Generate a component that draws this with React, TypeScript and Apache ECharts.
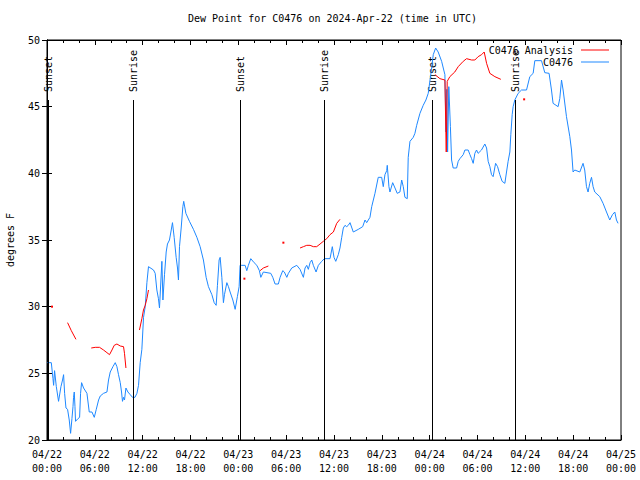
import React, { useEffect, useRef } from "react";
import * as echarts from "echarts";

// ---- data (hours since 2024-04-22 00:00 UTC, dew point °F) ----
const blueTimes = [
  0.05, 0.54, 0.75, 0.83, 0.95, 1.17, 1.45, 1.75, 1.95, 2.08, 2.21, 2.38, 2.58, 2.79, 2.96, 3.13, 3.26, 3.33, 3.42, 3.51,
  3.58, 3.88, 4.09, 4.21, 4.34, 4.59, 5.01, 5.3, 5.64, 5.93, 6.18, 6.47, 6.68, 7.09, 7.52, 7.72, 7.93, 8.27, 8.56, 8.77,
  8.97, 9.19, 9.35, 9.47, 9.6, 9.72, 9.9, 10.15, 10.44, 10.73, 11.03, 11.28, 11.48, 11.69, 11.9, 12.11, 12.32, 12.53, 12.73, 13.36,
  13.57, 13.78, 13.98, 14.11, 14.29, 14.41, 14.54, 14.74, 14.95, 15.11, 15.36, 15.54, 15.74, 15.95, 16.2, 16.37, 16.49, 16.62, 16.83, 17.04,
  17.15, 17.42, 17.87, 18.37, 18.8, 19.21, 19.62, 19.96, 20.25, 20.68, 20.97, 21.22, 21.38, 21.59, 21.72, 21.93, 22.13, 22.26, 22.56, 22.76,
  22.97, 23.31, 23.6, 23.88, 24.1, 24.22, 24.44, 24.85, 25.06, 25.26, 25.56, 25.98, 26.32, 26.64, 26.82, 27.14, 28.07, 28.32, 28.61, 29.02,
  29.24, 29.57, 29.77, 30.08, 30.28, 30.7, 31.33, 31.74, 32.16, 32.37, 32.58, 32.78, 33.0, 33.21, 33.41, 33.75, 34.04, 34.46, 34.79, 35.5,
  35.79, 36.0, 36.22, 36.54, 36.75, 36.97, 37.17, 37.38, 37.59, 37.79, 38.01, 38.42, 39.05, 39.6, 39.89, 40.1, 40.51, 40.73, 41.14, 41.55,
  41.98, 42.18, 42.39, 42.61, 42.68, 42.89, 43.02, 43.36, 43.65, 43.93, 44.27, 44.49, 44.69, 44.9, 45.19, 45.31, 45.53, 45.94, 46.15, 46.37,
  46.78, 47.19, 47.53, 47.82, 48.25, 48.45, 48.75, 49.07, 49.5, 49.91, 50.05, 50.15, 50.25, 50.4, 50.6, 50.75, 50.95, 51.38, 51.58, 51.79,
  52.21, 52.42, 52.83, 53.05, 53.26, 53.46, 53.67, 53.88, 54.08, 54.5, 54.92, 55.14, 55.34, 55.55, 55.76, 55.96, 56.27, 56.52, 56.8, 57.09,
  57.43, 57.64, 57.84, 58.06, 58.18, 58.35, 58.47, 58.68, 59.1, 59.52, 60.15, 60.56, 60.98, 61.19, 62.03, 62.44, 62.98, 63.28, 63.48, 64.11,
  64.32, 64.54, 64.74, 65.16, 65.58, 65.79, 65.99, 66.2, 66.83, 67.24, 67.45, 67.67, 67.87, 68.08, 68.3, 68.5, 68.71, 69.34, 69.75, 70.18,
  70.59, 70.93, 71.22, 71.43, 71.63,
];
const blueDewPoints = [
  25.8, 25.8, 24.6, 24.1, 25.2, 24.0, 22.9, 24.0, 24.5, 24.9, 23.5, 22.4, 22.3, 21.5, 20.5, 21.6, 22.5, 23.2, 23.6, 22.5,
  21.4, 21.6, 21.7, 23.5, 24.3, 23.9, 23.5, 22.1, 22.1, 21.7, 22.3, 23.0, 23.3, 23.5, 23.6, 24.5, 25.1, 25.5, 25.8, 25.5,
  24.9, 24.3, 23.6, 22.9, 23.2, 23.0, 23.9, 23.6, 23.4, 23.2, 23.2, 23.5, 24.1, 25.8, 26.8, 29.2, 30.0, 31.8, 33.0, 32.75,
  32.5, 31.25, 30.6, 29.9, 32.0, 33.4, 30.5, 32.4, 34.1, 34.7, 35.0, 35.6, 36.3, 35.2, 33.7, 32.9, 32.0, 34.5, 35.9, 37.5,
  37.9, 37.0, 36.4, 35.8, 35.2, 34.5, 33.5, 32.2, 31.5, 30.9, 30.3, 30.1, 31.6, 33.5, 33.7, 32.2, 30.3, 30.9, 31.8, 31.5,
  31.1, 30.5, 29.8, 30.75, 31.5, 33.1, 33.1, 33.1, 32.7, 33.1, 33.6, 33.3, 33.1, 32.7, 32.2, 32.6, 32.5, 32.2, 31.7, 31.7,
  32.2, 32.7, 32.6, 32.2, 32.5, 32.9, 33.1, 32.8, 32.2, 32.9, 33.1, 32.8, 33.3, 33.5, 33.1, 32.6, 33.1, 33.4, 33.6, 33.6,
  34.5, 33.7, 33.4, 33.9, 34.4, 35.2, 35.9, 36.1, 36.0, 36.1, 36.3, 35.6, 35.8, 36.0, 36.5, 36.3, 36.7, 37.5, 38.5, 39.7,
  39.7, 39.0, 39.9, 40.2, 40.6, 39.0, 38.6, 39.3, 38.9, 38.5, 38.6, 39.5, 39.0, 38.2, 38.1, 41.2, 42.4, 42.7, 43.0, 43.6,
  44.5, 45.1, 45.5, 46.0, 47.9, 48.9, 49.4, 49.1, 48.4, 47.4, 43.1, 46.3, 41.6, 46.5, 43.5, 41.0, 40.4, 40.4, 40.9, 41.1,
  41.4, 41.75, 41.75, 41.4, 41.1, 40.75, 41.5, 41.75, 41.5, 41.75, 42.2, 41.9, 40.9, 40.5, 39.9, 39.75, 40.75, 40.5, 39.9, 39.4,
  39.25, 40.1, 40.9, 41.6, 42.9, 44.4, 45.0, 45.5, 46.0, 46.25, 46.25, 47.25, 47.5, 48.45, 48.45, 47.55, 47.5, 46.25, 45.25, 45.0,
  45.6, 47.0, 46.25, 44.25, 42.75, 41.75, 40.1, 40.25, 40.1, 40.75, 40.25, 39.0, 38.6, 39.25, 39.7, 39.0, 38.6, 38.25, 37.75, 37.1,
  36.5, 36.9, 37.1, 36.5, 36.25,
];

// null marks a gap in the analysis record
const analysisTimes = [
  0.63, null,
  2.58, 3.05, 3.63, null,
  5.55, 6.05, 6.59, 7.09, 7.52, 7.84, 8.15, 8.43, 8.77, 9.19, 9.6, 9.72, 9.9, null,
  11.6, 11.9, 12.1, 12.32, 12.53, 12.73, null,
  24.76, null,
  26.73, 27.14, 27.77, null,
  29.65, null,
  31.74, 32.16, 32.58, 33.0, 33.41, 33.83, 34.25, 34.66, 35.09, 35.5, 35.92, 36.34, 36.75, null,
  48.66, 49.29, 49.91, 50.08, 50.2, 50.53, 51.15, 51.58, 52.21, 52.63, 53.26, 53.67, 54.08, 54.51, 54.84, 55.14, 55.55, 56.18, 56.93, null,
  59.85,
];
const analysisDewPoints = [
  30.0, null,
  28.8, 28.2, 27.55, null,
  26.9, 26.95, 26.95, 26.75, 26.55, 26.4, 26.75, 27.1, 27.2, 27.05, 27.0, 26.5, 25.4, null,
  28.25, 29.1, 29.75, 30.1, 30.6, 31.25, null,
  32.1, null,
  32.7, 32.9, 33.05, null,
  34.8, null,
  34.4, 34.5, 34.6, 34.6, 34.5, 34.5, 34.7, 34.9, 35.1, 35.4, 35.6, 36.25, 36.55, null,
  47.4, 47.1, 47.0, 41.6, 46.9, 47.25, 47.6, 48.0, 48.4, 48.6, 48.5, 48.5, 48.75, 48.9, 49.1, 48.25, 47.5, 47.25, 47.05, null,
  45.55,
];

const sunEventTimes = [0.17, 10.85, 24.25, 34.8, 48.3, 58.75];
const sunEventLabels = ["Sunset", "Sunrise", "Sunset", "Sunrise", "Sunset", "Sunrise"];
const sunLineTop = 45.5;
const sunLabelBase = 46.1;

const xTickLabels = [
  "04/22\n00:00", "04/22\n06:00", "04/22\n12:00", "04/22\n18:00",
  "04/23\n00:00", "04/23\n06:00", "04/23\n12:00", "04/23\n18:00",
  "04/24\n00:00", "04/24\n06:00", "04/24\n12:00", "04/24\n18:00",
  "04/25\n00:00",
];

const seriesNames = ["C0476 Analysis", "C0476"];
const titleText = "Dew Point for C0476 on 2024-Apr-22 (time in UTC)";

const FONT = '"DejaVu Sans Mono", "Liberation Mono", monospace';

export default function App() {
  const ref = useRef<HTMLDivElement>(null);
  useEffect(() => {
    if (!ref.current) return;
    const chart = echarts.init(ref.current, undefined, { renderer: "svg" });

    const blueData = blueTimes.map((t, i) => [t, blueDewPoints[i]]);
    const analysisData = analysisTimes.map((t, i) => {
      const v = analysisDewPoints[i];
      if (t == null || v == null) return ["-", "-"];
      const prevGap = i === 0 || analysisDewPoints[i - 1] == null;
      const nextGap = i === analysisDewPoints.length - 1 || analysisDewPoints[i + 1] == null;
      if (prevGap && nextGap) {
        return { value: [t, v], symbol: "rect", symbolSize: 2 };
      }
      return [t, v];
    });

    const axisLineStyle = { color: "#000", width: 1 };
    const labelStyle = { fontFamily: FONT, fontSize: 10, color: "#000" };

    const xBase = {
      type: "value" as const,
      min: 0,
      max: 72,
      interval: 6,
      axisLine: { show: true, lineStyle: axisLineStyle },
      axisTick: { show: true, inside: true, length: 5, lineStyle: axisLineStyle },
      minorTick: { show: true, splitNumber: 3, length: 3, lineStyle: axisLineStyle },
      splitLine: { show: false },
      minorSplitLine: { show: false },
    };
    const yBase = {
      type: "value" as const,
      min: 20,
      max: 50,
      interval: 5,
      axisLine: { show: true, lineStyle: axisLineStyle },
      axisTick: { show: true, inside: true, length: 5, lineStyle: axisLineStyle },
      splitLine: { show: false },
    };

    const legendBase = {
      right: 31,
      orient: "horizontal" as const,
      align: "right" as const,
      icon: "rect",
      itemWidth: 28,
      itemHeight: 1,
      padding: 0,
      selectedMode: false,
      textStyle: { ...labelStyle, padding: [0, 3, 0, 0] },
    };

    chart.setOption({
      animation: false,
      backgroundColor: "#fff",
      title: {
        text: titleText,
        left: 188,
        top: 13,
        padding: 0,
        textStyle: { fontFamily: FONT, fontSize: 10, fontWeight: "normal", color: "#000" },
      },
      legend: [
        { ...legendBase, top: 45, data: [seriesNames[0]] },
        { ...legendBase, top: 57, data: [seriesNames[1]] },
      ],
      grid: {
        left: 47,
        right: 19,
        top: 40,
        bottom: 40,
        containLabel: false,
        outerBoundsMode: "none",
        show: true,
        borderColor: "#000",
        borderWidth: 1,
        backgroundColor: "transparent",
      },
      xAxis: [
        {
          ...xBase,
          position: "bottom",
          axisLabel: {
            ...labelStyle,
            lineHeight: 14,
            margin: 7,
            formatter: (v: number) => xTickLabels[Math.round(v / 6)] ?? "",
          },
        },
        { ...xBase, position: "top", axisLabel: { show: false } },
      ],
      yAxis: [
        {
          ...yBase,
          position: "left",
          axisLabel: { ...labelStyle, margin: 7 },
          name: "degrees F",
          nameLocation: "middle",
          nameGap: 32,
          nameTextStyle: { ...labelStyle },
        },
        { ...yBase, position: "right", axisLabel: { show: false } },
      ],
      series: [
        {
          name: seriesNames[0],
          type: "line",
          data: analysisData,
          xAxisIndex: 0,
          yAxisIndex: 0,
          symbol: "none",
          showSymbol: true,
          showAllSymbol: true,
          connectNulls: false,
          color: "#ff0000",
          itemStyle: { color: "#ff0000" },
          lineStyle: { color: "#ff0000", width: 1 },
          emphasis: { disabled: true },
          silent: true,
          z: 3,
        },
        {
          name: seriesNames[1],
          type: "line",
          data: blueData,
          xAxisIndex: 0,
          yAxisIndex: 0,
          symbol: "none",
          showSymbol: false,
          color: "#1e88ff",
          itemStyle: { color: "#1e88ff" },
          lineStyle: { color: "#1e88ff", width: 1 },
          emphasis: { disabled: true },
          silent: true,
          z: 2,
          markLine: {
            silent: true,
            symbol: ["none", "none"],
            label: { show: false },
            lineStyle: { color: "#000", type: "solid", width: 1 },
            emphasis: { disabled: true },
            data: sunEventTimes.map((t) => [{ coord: [t, 20] }, { coord: [t, sunLineTop] }]),
          },
        },
      ],
    });

    const graphic = sunEventTimes.map((t, i) => {
      const p = chart.convertToPixel({ xAxisIndex: 0, yAxisIndex: 0 }, [t, sunLabelBase]) as number[];
      return {
        type: "text",
        x: p[0],
        y: p[1],
        rotation: Math.PI / 2,
        silent: true,
        style: {
          text: sunEventLabels[i],
          font: `10px ${FONT}`,
          fill: "#000",
          textAlign: "left",
          verticalAlign: "middle",
        },
      };
    });
    chart.setOption({ graphic });

    return () => chart.dispose();
  }, []);

  return (
    <div
      ref={ref}
      style={{ position: "fixed", left: 0, top: 0, width: 640, height: 480, background: "#fff" }}
    />
  );
}
